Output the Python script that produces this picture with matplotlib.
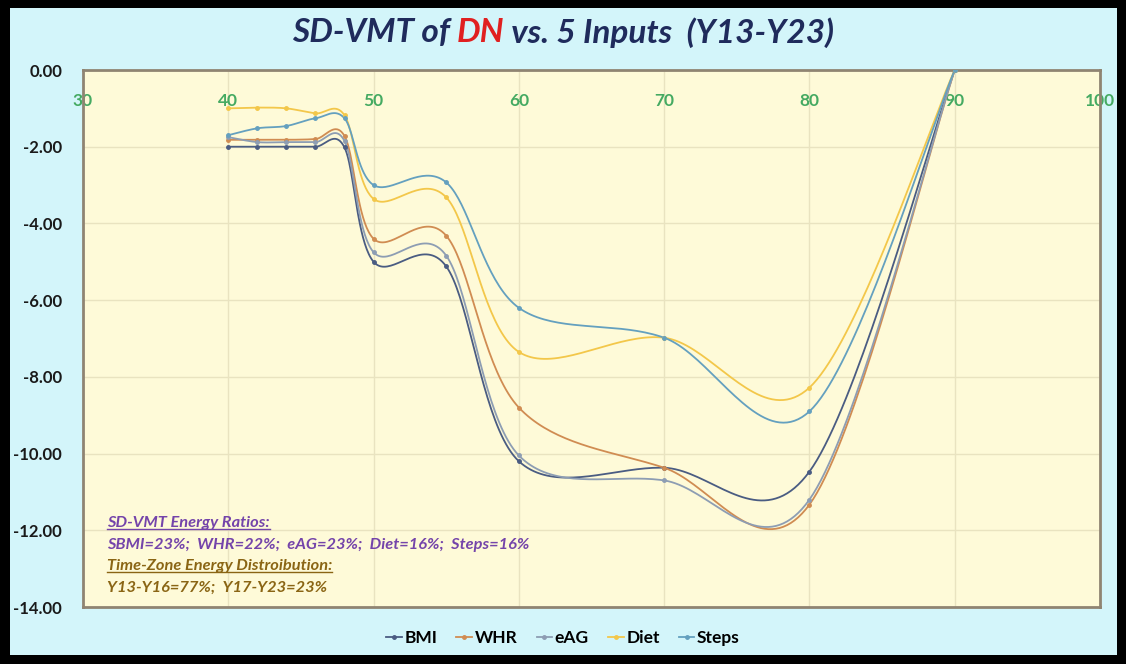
import numpy as np
import matplotlib.pyplot as plt
from matplotlib.patches import Rectangle
from matplotlib.lines import Line2D

plt.rcParams['font.family'] = ['Lato', 'DejaVu Sans']
plt.rcParams['axes.unicode_minus'] = False

# valores (eje x = edad, eje y = SD-VMT)
edades = [40, 42, 44, 46, 48, 50, 55, 60, 70, 80, 90]
bmi = [-2.00, -2.00, -2.00, -2.00, -2.02, -5.00, -5.12, -10.20, -10.37, -10.47, 0.00]
whr = [-1.82, -1.82, -1.82, -1.80, -1.72, -4.40, -4.32, -8.80, -10.37, -11.33, 0.00]
eag = [-1.75, -1.88, -1.88, -1.88, -1.85, -4.75, -4.84, -10.05, -10.70, -11.20, 0.00]
diet = [-1.00, -0.98, -1.00, -1.13, -1.18, -3.36, -3.32, -7.35, -6.98, -8.28, 0.00]
steps = [-1.70, -1.52, -1.46, -1.26, -1.26, -3.00, -2.93, -6.20, -6.98, -8.90, 0.00]

series = ['BMI', 'WHR', 'eAG', 'Diet', 'Steps']
valores = [bmi, whr, eag, diet, steps]
colores = ['#4a5c82', '#d08c52', '#8d9db3', '#f3c74a', '#64a0bf']

xticks = [30, 40, 50, 60, 70, 80, 90, 100]
yticks = [-14, -12, -10, -8, -6, -4, -2, 0]


def suavizar(xs, ys, n=40):
    # curvas Bezier parecidas a la "linea suavizada" de Excel
    p = np.column_stack([xs, ys]).astype(float)
    pe = np.vstack([p[0], p, p[-1]])
    trozos = []
    t = np.linspace(0, 1, n)[:, None]
    for i in range(len(p) - 1):
        p0, p1, p2, p3 = pe[i], pe[i + 1], pe[i + 2], pe[i + 3]
        c1 = p1 + (p2 - p0) / 6
        c2 = p2 - (p3 - p1) / 6
        seg = (1 - t) ** 3 * p1 + 3 * (1 - t) ** 2 * t * c1 + 3 * (1 - t) * t ** 2 * c2 + t ** 3 * p2
        trozos.append(seg if i == 0 else seg[1:])
    c = np.vstack(trozos)
    return c[:, 0], c[:, 1]


W, H = 1126, 664
fig = plt.figure(figsize=(W / 100, H / 100), dpi=100)
fig.patch.set_facecolor('black')
fig.patches.append(Rectangle((10 / W, 9 / H), (W - 19) / W, (H - 17) / H,
                             transform=fig.transFigure, facecolor='#d3f5fa',
                             edgecolor='none', zorder=-5))

ax = fig.add_axes([83 / W, 1 - 607 / H, (1100 - 83) / W, (607 - 70) / H])
ax.set_zorder(2)
ax.set_facecolor('#fefad8')

for nombre, ys, col in zip(series, valores, colores):
    sx, sy = suavizar(edades, ys)
    ax.plot(sx, sy, color=col, lw=1.3, zorder=3)
    ax.plot(edades, ys, ls='none', marker='o', ms=2.5, color=col, zorder=4)

ax.set_xlim(30, 100)
ax.set_ylim(-14, 0)
ax.set_xticks(xticks)
ax.set_yticks(yticks)
ax.set_yticklabels([f'{v:.2f}' for v in yticks])
ax.grid(True, color='#e9e3c0', lw=1, zorder=0)
ax.set_axisbelow(True)

ax.xaxis.set_ticks_position('top')
ax.tick_params(axis='x', length=0, pad=-28, labelsize=12.5, labelcolor='#45aa62')
ax.tick_params(axis='y', length=0, pad=15, labelsize=12, labelcolor='#1a1a1a')
for lab in ax.get_xticklabels() + ax.get_yticklabels():
    lab.set_fontweight('bold')
for s in ax.spines.values():
    s.set_color('#8f8472')
    s.set_linewidth(2)

# leyenda
manijas = [Line2D([], [], color=c, lw=1.3, marker='o', ms=2.5) for c in colores]
fig.legend(manijas, series, loc='center', bbox_to_anchor=(0.5, 1 - 638 / H), ncol=5,
           frameon=False, handlelength=0.9, handletextpad=0.15, columnspacing=1.1,
           prop={'weight': 'bold', 'size': 12.5})

# titulo en tres trozos para pintar "DN" en rojo
trozos = [('SD-VMT of ', '#1f2b5c'), ('DN', '#e02020'), (' vs. 5 Inputs  (Y13-Y23)', '#1f2b5c')]
tt = []
for txt, col in trozos:
    tt.append(fig.text(0, 1 - 33 / H, txt, color=col, fontsize=24, fontweight='bold',
                       fontstyle='italic', va='center', ha='left'))

# notas
notas = [('SD-VMT Energy Ratios:', '#7444aa', True, 523),
         ('SBMI=23%;  WHR=22%;  eAG=23%;  Diet=16%;  Steps=16%', '#7444aa', False, 545),
         ('Time-Zone Energy Distroibution:', '#8a6514', True, 566),
         ('Y13-Y16=77%;  Y17-Y23=23%', '#8a6514', False, 588)]
nt = []
for txt, col, sub, yp in notas:
    nt.append((fig.text(107 / W, 1 - yp / H, txt, color=col, fontsize=11.8, fontweight='bold',
                        fontstyle='italic', va='center', ha='left', zorder=5), col, sub))

fig.canvas.draw()
r = fig.canvas.get_renderer()
anchos = [t.get_window_extent(r).width for t in tt]
x0 = (W - sum(anchos)) / 2
for t, a in zip(tt, anchos):
    t.set_x(x0 / W)
    x0 += a
for t, col, sub in nt:
    if sub:
        bb = t.get_window_extent(r)
        fig.lines.append(Line2D([bb.x0 / W, bb.x1 / W], [(bb.y0 + 1) / H] * 2,
                                transform=fig.transFigure, color=col, lw=1, zorder=5))

fig.savefig('out.png', dpi=100, facecolor=fig.get_facecolor())
